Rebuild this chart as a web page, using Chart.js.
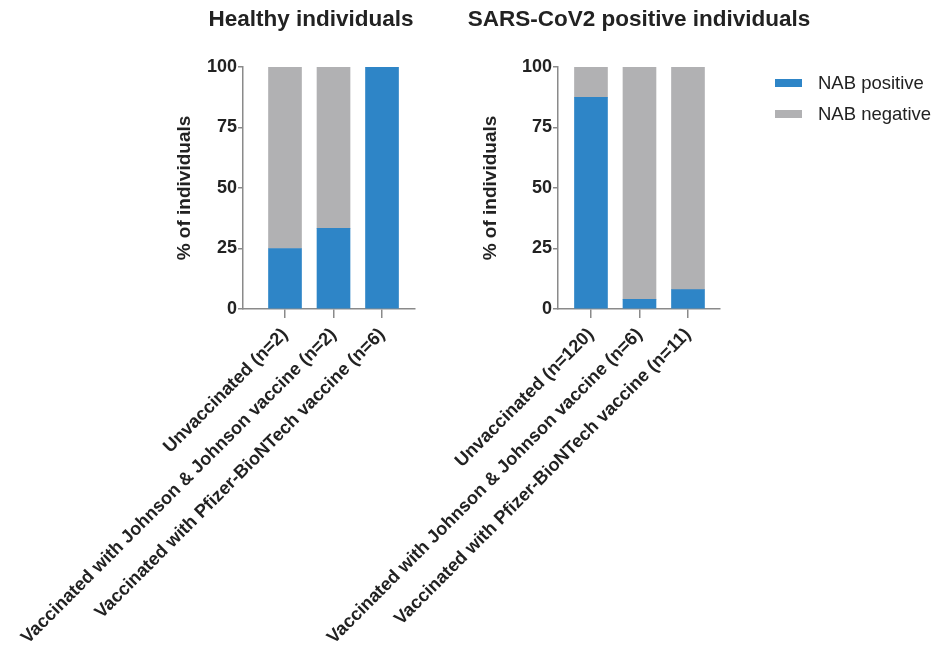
<!DOCTYPE html>
<html>
<head>
<meta charset="utf-8">
<script src="https://cdn.jsdelivr.net/npm/chart.js@4.4.1/dist/chart.umd.min.js"></script>
<style>
  body { margin: 0; background: #fff; }
  #wrap { position: relative; width: 945px; height: 647px; overflow: hidden; font-family: "Liberation Sans", Arial, sans-serif; }
  #wrap canvas { position: absolute; top: 0; }
  #legend { position: absolute; left: 775px; top: 67px; }
  .item { display: flex; align-items: center; height: 31px; font-size: 18.5px; color: #222; }
  .swatch { width: 27px; height: 8px; margin-right: 16px; }
</style>
</head>
<body>
<div id="wrap">
  <canvas id="healthy" width="440" height="647"></canvas>
  <canvas id="covid" width="645" height="647"></canvas>
  <div id="legend"></div>
</div>
<script>
// data (% of individuals)
const seriesNames = ['NAB positive', 'NAB negative'];
const seriesColors = ['#2e85c7', '#b1b1b3'];
const yTicks = [0, 25, 50, 75, 100];

const healthyGroups = ['Unvaccinated (n=2)', 'Vaccinated with Johnson & Johnson vaccine (n=2)', 'Vaccinated with Pfizer-BioNTech vaccine (n=6)'];
const healthyPositive = [25, 33.3, 100];
const healthyNegative = [75, 66.7, 0];

const covidGroups = ['Unvaccinated (n=120)', 'Vaccinated with Johnson & Johnson vaccine (n=6)', 'Vaccinated with Pfizer-BioNTech vaccine (n=11)'];
const covidPositive = [87.5, 4, 8];
const covidNegative = [12.5, 96, 92];

const textColor = '#222';
const axisColor = '#8a8a8a';
const font = '"Liberation Sans", Arial, sans-serif';

function makePanel(id, title, groups, positive, negative, box) {
    const canvas = document.getElementById(id);
    canvas.style.left = box.left + 'px';
    const values = [positive, negative];

    return new Chart(canvas, {
        type: 'bar',
        data: {
            datasets: values.map((vals, s) => ({
                label: seriesNames[s],
                data: vals.map((v, i) => ({ x: i, y: v })),
                backgroundColor: seriesColors[s],
                borderWidth: 0,
                barThickness: 33
            }))
        },
        options: {
            responsive: false,
            animation: false,
            layout: { padding: { left: box.padLeft, right: box.padRight, top: 0, bottom: 0 } },
            plugins: {
                legend: { display: false },
                tooltip: { enabled: false },
                title: {
                    display: true,
                    text: title,
                    color: textColor,
                    font: { family: font, size: 22.5, weight: 'bold' },
                    padding: { top: 6, bottom: 34 }
                }
            },
            scales: {
                x: {
                    type: 'linear',
                    stacked: true,
                    bounds: 'data',
                    offset: false,
                    min: box.xMin,
                    max: box.xMax,
                    afterBuildTicks: scale => { scale.ticks = groups.map((g, i) => ({ value: i })); },
                    afterFit: scale => { scale.height = 338; },
                    border: { color: axisColor, width: 1.5 },
                    grid: { offset: false, drawOnChartArea: false, drawTicks: true, tickLength: 9, color: axisColor, lineWidth: 1.5 },
                    ticks: {
                        autoSkip: false,
                        minRotation: 45,
                        maxRotation: 45,
                        padding: 6,
                        color: textColor,
                        font: { family: font, size: 18.2, weight: 'bold' },
                        callback: v => groups[v]
                    }
                },
                y: {
                    stacked: true,
                    min: 0,
                    max: 100,
                    afterBuildTicks: scale => { scale.ticks = yTicks.map(v => ({ value: v })); },
                    afterFit: scale => { scale.width = box.yWidth; },
                    border: { color: axisColor, width: 1.5 },
                    grid: { drawOnChartArea: false, drawTicks: true, tickLength: 5, color: axisColor, lineWidth: 1.5 },
                    ticks: {
                        padding: 1,
                        color: textColor,
                        font: { family: font, size: 18, weight: 'bold' }
                    },
                    title: {
                        display: true,
                        text: '% of individuals',
                        color: textColor,
                        font: { family: font, size: 19, weight: 'bold' },
                        padding: { top: box.yTitlePad, bottom: 0 }
                    }
                },
                // empty spacer on the right so the panel title is centred where it is in the figure
                spacer: {
                    position: 'right',
                    grid: { display: false },
                    border: { display: false },
                    ticks: { display: false },
                    afterFit: scale => { scale.width = box.spacer; }
                }
            }
        }
    });
}

makePanel('healthy', 'Healthy individuals', healthyGroups, healthyPositive, healthyNegative, {
    left: 0, padLeft: 200, padRight: 18, yWidth: 43, spacer: 7, yTitlePad: -26.4, xMin: -0.866, xMax: 2.68
});
makePanel('covid', 'SARS-CoV2 positive individuals', covidGroups, covidPositive, covidNegative, {
    left: 300, padLeft: 165, padRight: 132, yWidth: 93, spacer: 93, yTitlePad: 14.6, xMin: -0.68, xMax: 2.66
});

// legend
const legend = document.getElementById('legend');
seriesNames.forEach((name, i) => {
    const item = document.createElement('div');
    item.className = 'item';
    item.innerHTML = `<span class="swatch" style="background:${seriesColors[i]}"></span><span>${name}</span>`;
    legend.appendChild(item);
});
</script>
</body>
</html>
